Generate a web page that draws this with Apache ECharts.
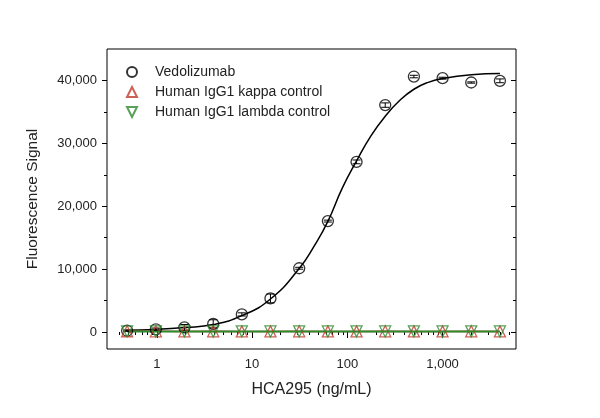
<!DOCTYPE html>
<html>
<head>
<meta charset="UTF-8">
<style>
	html, body { margin: 0; padding: 0; background: #fff; }
	#main { width: 600px; height: 418px; }
</style>
</head>
<body>
	<div id="main"></div>
	<script src="https://cdn.jsdelivr.net/npm/echarts@6/dist/echarts.min.js"></script>
<script>
	// concentrations (ng/mL), 2-fold dilution
	var conc = [0.488, 0.977, 1.95, 3.91, 7.81, 15.6, 31.25, 62.5, 125, 250, 500, 1000, 2000, 4000];
	var vedolizumab = [200, 430, 740, 1300, 2800, 5340, 10140, 17640, 27050, 36080, 40620, 40360, 39670, 39940];
	var vedoErr = [100, 200, 450, 650, 250, 700, 150, 150, 300, 350, 200, 150, 100, 300];
	var kappa = [120, 110, 100, 110, 100, 100, 110, 100, 100, 110, 100, 100, 110, 100];
	var lambda = [100, 90, 100, 90, 100, 90, 100, 90, 100, 90, 100, 90, 100, 90];
	// fitted curve
	var fitX = [0.46, 0.977, 1.95, 3.91, 7.81, 15.6, 31.25, 45, 62.5, 88, 125, 177, 250, 354, 500, 707, 1000, 2000, 4000];
	var fitY = [300, 420, 700, 1180, 2600, 5250, 10100, 13700, 17600, 22800, 27200, 31200, 34300, 36800, 38600, 39700, 40300, 40900, 41100];

	var xMajor = [1, 10, 100, 1000];
	var xMinor = [0.4, 0.5, 0.6, 0.7, 0.8, 0.9, 2, 3, 4, 5, 6, 7, 8, 9, 20, 30, 40, 50, 60, 70, 80, 90,
		200, 300, 400, 500, 600, 700, 800, 900, 2000, 3000, 4000, 5000];
	var yMajor = [0, 10000, 20000, 30000, 40000];
	var yMinor = [5000, 15000, 25000, 35000];

	function pairs(xs, ys) {
		var out = [];
		for (var i = 0; i < xs.length; i++) out.push([xs[i], ys[i]]);
		return out;
	}
	function fmt(v) {
		return Math.round(v).toLocaleString('en-US');
	}

	var font = 'Liberation Sans, Arial, sans-serif';
	var ink = '#222';
	var red = '#c0392b';
	var green = '#2e8b2e';

	function xAx(pos, ticks, len, inside, labels) {
		return {
			type: 'log', min: 0.3, max: 5900, position: pos,
			axisLine: { show: false },
			splitLine: { show: false },
			axisTick: { customValues: ticks, length: len, inside: inside, lineStyle: { color: '#000', width: 1 } },
			axisLabel: labels ? { customValues: xMajor, formatter: fmt, color: ink, fontSize: 13, fontFamily: font, margin: 9 } : { show: false }
		};
	}
	function yAx(pos, ticks, len, inside, labels) {
		return {
			type: 'value', min: -2700, max: 45000, position: pos,
			axisLine: { show: false },
			splitLine: { show: false },
			axisTick: { customValues: ticks, length: len, inside: inside, lineStyle: { color: '#000', width: 1 } },
			axisLabel: labels ? { customValues: yMajor, formatter: fmt, color: ink, fontSize: 13, fontFamily: font, margin: 10 } : { show: false }
		};
	}

	var xs = [xAx('bottom', xMajor, 6, false, true), xAx('bottom', xMinor, 3, false, false),
		xAx('top', xMajor, 6, true, false), xAx('top', xMinor, 3, true, false)];
	xs[0].name = 'HCA295 (ng/mL)';
	xs[0].nameLocation = 'middle';
	xs[0].nameGap = 33;
	xs[0].nameTextStyle = { color: ink, fontSize: 16, fontFamily: font };

	var ys = [yAx('left', yMajor, 5, false, true), yAx('left', yMinor, 3, false, false),
		yAx('right', yMajor, 5, true, false), yAx('right', yMinor, 3, true, false)];
	ys[0].name = 'Fluorescence Signal';
	ys[0].nameLocation = 'middle';
	ys[0].nameGap = 66;
	ys[0].nameTextStyle = { color: ink, fontSize: 15.5, fontFamily: font };

	var myChart = echarts.init(document.getElementById('main'), null, { renderer: 'canvas' });
	myChart.setOption({
		animation: false,
		backgroundColor: '#fff',
		grid: { left: 107, right: 84, top: 49, bottom: 69, show: true, borderColor: '#000', borderWidth: 1 },
		legend: {
			orient: 'vertical', left: 121, top: 60, itemWidth: 10, itemHeight: 10, itemGap: 6,
			textStyle: { color: ink, fontSize: 14, lineHeight: 14, fontFamily: font, padding: [0, 0, 0, 13] },
			data: [
				{ name: 'Vedolizumab', icon: 'circle' },
				{ name: 'Human IgG1 kappa control', icon: 'path://M5,0 L10,10 L0,10 Z' },
				{ name: 'Human IgG1 lambda control', icon: 'path://M0,0 L10,0 L5,10 Z' }
			]
		},
		xAxis: xs,
		yAxis: ys,
		series: [
			{
				name: 'fit', type: 'line', data: pairs(fitX, fitY), smooth: true, showSymbol: false,
				lineStyle: { color: '#000', width: 1.5 }, z: 2
			},
			{
				name: 'kappa line', type: 'line', data: pairs(conc, kappa), showSymbol: false,
				lineStyle: { color: red, width: 1.5 }, z: 2
			},
			{
				name: 'lambda line', type: 'line', data: pairs(conc, lambda), showSymbol: false,
				lineStyle: { color: green, width: 2 }, z: 2
			},
			{
				name: 'err', type: 'custom', z: 3,
				data: conc.map(function (c, i) { return [c, vedolizumab[i] - vedoErr[i], vedolizumab[i] + vedoErr[i]]; }),
				renderItem: function (params, api) {
					var lo = api.coord([api.value(0), api.value(1)]);
					var hi = api.coord([api.value(0), api.value(2)]);
					var w = 4;
					var st = { stroke: '#000', lineWidth: 1 };
					return {
						type: 'group',
						children: [
							{ type: 'line', shape: { x1: lo[0], y1: lo[1], x2: hi[0], y2: hi[1] }, style: st },
							{ type: 'line', shape: { x1: lo[0] - w, y1: lo[1], x2: lo[0] + w, y2: lo[1] }, style: st },
							{ type: 'line', shape: { x1: hi[0] - w, y1: hi[1], x2: hi[0] + w, y2: hi[1] }, style: st }
						]
					};
				}
			},
			{
				name: 'Vedolizumab', type: 'scatter', data: pairs(conc, vedolizumab),
				symbol: 'circle', symbolSize: 11, z: 4,
				itemStyle: { color: 'rgba(255,255,255,0)', borderColor: '#000', borderWidth: 1.3 }
			},
			{
				name: 'Human IgG1 kappa control', type: 'scatter', data: pairs(conc, kappa),
				symbol: 'triangle', symbolSize: 11, z: 4,
				itemStyle: { color: 'rgba(255,255,255,0)', borderColor: red, borderWidth: 1.3 }
			},
			{
				name: 'Human IgG1 lambda control', type: 'scatter', data: pairs(conc, lambda),
				symbol: 'triangle', symbolRotate: 180, symbolSize: 11, z: 5,
				itemStyle: { color: 'rgba(255,255,255,0)', borderColor: green, borderWidth: 1.3 }
			}
		]
	});
</script>
</body>
</html>
